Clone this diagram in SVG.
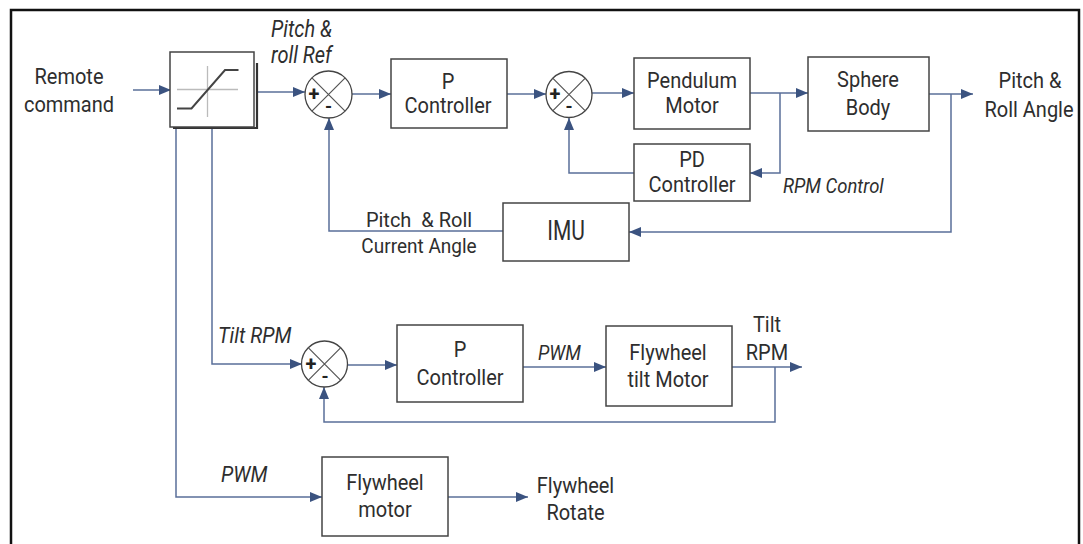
<svg xmlns="http://www.w3.org/2000/svg" width="1083" height="544" viewBox="0 0 1083 544">
<style>
.frame{fill:none;stroke:#111;stroke-width:2.5}
.box{fill:#fff;stroke:#444;stroke-width:1.5}
.sum{fill:#fff;stroke:#444;stroke-width:1.3}
.sx{stroke:#555;stroke-width:1.2}
.w{fill:none;stroke:#5a6f99;stroke-width:1.5}
.t{font-family:Roboto,"Liberation Sans",sans-serif;font-size:20px;fill:#2e2e2e;text-anchor:middle}
.i{font-family:Roboto,"Liberation Sans",sans-serif;font-size:20px;fill:#2e2e2e;font-style:italic}
.s{font-family:Roboto,"Liberation Sans",sans-serif;fill:#222;font-weight:bold}
</style>
<defs>
<marker id="ah" markerUnits="userSpaceOnUse" markerWidth="12" markerHeight="10" refX="12" refY="5" orient="auto">
<path d="M0,0 L12,5 L0,10 z" fill="#3b5380"/>
</marker>
</defs>
<rect width="1083" height="544" fill="#fff"/>
<rect class="frame" x="11" y="10" width="1068" height="600"/>

<g id="connectors">
<path class="w" d="M133,90 H171" marker-end="url(#ah)"/>
<path class="w" d="M258,92 H305" marker-end="url(#ah)"/>
<path class="w" d="M352,94 H391" marker-end="url(#ah)"/>
<path class="w" d="M507,94 H546" marker-end="url(#ah)"/>
<path class="w" d="M592,93 H634" marker-end="url(#ah)"/>
<path class="w" d="M750,93 H808" marker-end="url(#ah)"/>
<path class="w" d="M780,93 V173 H750" marker-end="url(#ah)"/>
<path class="w" d="M634,173 H569 V118" marker-end="url(#ah)"/>
<path class="w" d="M929,94 H973" marker-end="url(#ah)"/>
<path class="w" d="M951,94 V232 H629" marker-end="url(#ah)"/>
<path class="w" d="M503,231 H329 V118" marker-end="url(#ah)"/>
<path class="w" d="M176,129 V497 H322" marker-end="url(#ah)"/>
<path class="w" d="M212,129 V364 H302" marker-end="url(#ah)"/>
<path class="w" d="M347,365 H397" marker-end="url(#ah)"/>
<path class="w" d="M523,367 H606" marker-end="url(#ah)"/>
<path class="w" d="M732,367 H802" marker-end="url(#ah)"/>
<path class="w" d="M775,367 V422 H324 V387" marker-end="url(#ah)"/>
<path class="w" d="M448,497 H528" marker-end="url(#ah)"/>
</g>

<g id="remote">
<text class="t" transform="translate(69 84) scale(1 1.12)">Remote</text>
<text class="t" transform="translate(69 112) scale(1 1.12)">command</text>
</g>

<g id="saturation">
<path d="M173,128 H257 V63" fill="none" stroke="#333" stroke-width="2.2"/>
<rect class="box" x="170" y="52" width="84" height="75"/>
<path d="M177,89.5 H238 M207.5,66 V117" stroke="#bbb" stroke-width="1.3" fill="none"/>
<path d="M177,108.5 H191.5 L225,70 H238.5" stroke="#444" stroke-width="2" fill="none"/>
</g>

<g id="ref-label">
<text class="i" transform="translate(271 37) scale(1 1.15)">Pitch &amp;</text>
<text class="i" transform="translate(271 63) scale(1 1.15)">roll Ref</text>
</g>

<g id="sum1">
<circle class="sum" cx="328.5" cy="94.5" r="23.5"/>
<path class="sx" d="M311.9,77.9 L345.1,111.1 M345.1,77.9 L311.9,111.1"/>
<text class="s" x="314" y="101" font-size="20" text-anchor="middle">+</text>
<text class="s" x="328.5" y="113" font-size="18" text-anchor="middle">-</text>
</g>

<g id="p-controller-1">
<rect class="box" x="391" y="59" width="116" height="69"/>
<text class="t" transform="translate(448 89) scale(1 1.1)">P</text>
<text class="t" transform="translate(448 113) scale(1 1.1)">Controller</text>
</g>

<g id="sum2">
<circle class="sum" cx="569" cy="94.5" r="23"/>
<path class="sx" d="M552.7,78.2 L585.3,110.8 M585.3,78.2 L552.7,110.8"/>
<text class="s" x="555" y="101" font-size="20" text-anchor="middle">+</text>
<text class="s" x="569" y="113" font-size="18" text-anchor="middle">-</text>
</g>

<g id="pendulum-motor">
<rect class="box" x="634" y="58" width="116" height="71"/>
<text class="t" transform="translate(692 88) scale(1 1.1)">Pendulum</text>
<text class="t" transform="translate(692 113) scale(1 1.1)">Motor</text>
</g>

<g id="pd-controller">
<rect class="box" x="634" y="144" width="116" height="57"/>
<text class="t" transform="translate(692 167) scale(1 1.1)">PD</text>
<text class="t" transform="translate(692 192) scale(1 1.1)">Controller</text>
</g>

<g id="sphere-body">
<rect class="box" x="808" y="57" width="121" height="74"/>
<text class="t" transform="translate(868 87) scale(1 1.12)">Sphere</text>
<text class="t" transform="translate(868 115) scale(1 1.12)">Body</text>
</g>

<g id="output-label">
<text class="t" transform="translate(1030 88) scale(1 1.12)">Pitch &amp;</text>
<text class="t" transform="translate(1029 117) scale(1 1.12)">Roll Angle</text>
</g>

<g id="rpm-control-label">
<text class="i" style="font-size:18.5px" transform="translate(783 193) scale(1 1.1)">RPM Control</text>
</g>

<g id="imu">
<rect class="box" x="503" y="203" width="126" height="58"/>
<text class="t" style="font-size:21px" transform="translate(566 240) scale(1 1.28)">IMU</text>
</g>

<g id="current-angle-label">
<text class="t" style="white-space:pre" transform="translate(419 227) scale(1 1.05)">Pitch  &amp; Roll</text>
<text class="t" style="font-size:19px" transform="translate(419 253) scale(1 1.1)">Current Angle</text>
</g>

<g id="tilt-rpm-label">
<text class="i" transform="translate(218 343) scale(1 1.1)">Tilt RPM</text>
</g>

<g id="sum3">
<circle class="sum" cx="324.5" cy="364" r="23"/>
<path class="sx" d="M308.2,347.7 L340.8,380.3 M340.8,347.7 L308.2,380.3"/>
<text class="s" x="311" y="371" font-size="20" text-anchor="middle">+</text>
<text class="s" x="325" y="383" font-size="18" text-anchor="middle">-</text>
</g>

<g id="p-controller-2">
<rect class="box" x="397" y="325" width="126" height="77"/>
<text class="t" transform="translate(460 357) scale(1 1.12)">P</text>
<text class="t" transform="translate(460 385) scale(1 1.12)">Controller</text>
</g>

<g id="pwm-label-1">
<text class="i" style="font-size:18.5px" transform="translate(538 360) scale(1 1.1)">PWM</text>
</g>

<g id="flywheel-tilt-motor">
<rect class="box" x="606" y="326" width="126" height="80"/>
<text class="t" transform="translate(668 360) scale(1 1.12)">Flywheel</text>
<text class="t" transform="translate(668 387) scale(1 1.12)">tilt Motor</text>
</g>

<g id="tilt-rpm-out">
<text class="t" transform="translate(767 332) scale(1 1.12)">Tilt</text>
<text class="t" transform="translate(767 360) scale(1 1.12)">RPM</text>
</g>

<g id="pwm-label-2">
<text class="i" transform="translate(221 482) scale(1 1.1)">PWM</text>
</g>

<g id="flywheel-motor">
<rect class="box" x="322" y="457" width="126" height="79"/>
<text class="t" transform="translate(385 490) scale(1 1.12)">Flywheel</text>
<text class="t" transform="translate(385 517) scale(1 1.12)">motor</text>
</g>

<g id="flywheel-rotate">
<text class="t" transform="translate(575.5 493) scale(1 1.12)">Flywheel</text>
<text class="t" transform="translate(575.5 520) scale(1 1.12)">Rotate</text>
</g>
</svg>
